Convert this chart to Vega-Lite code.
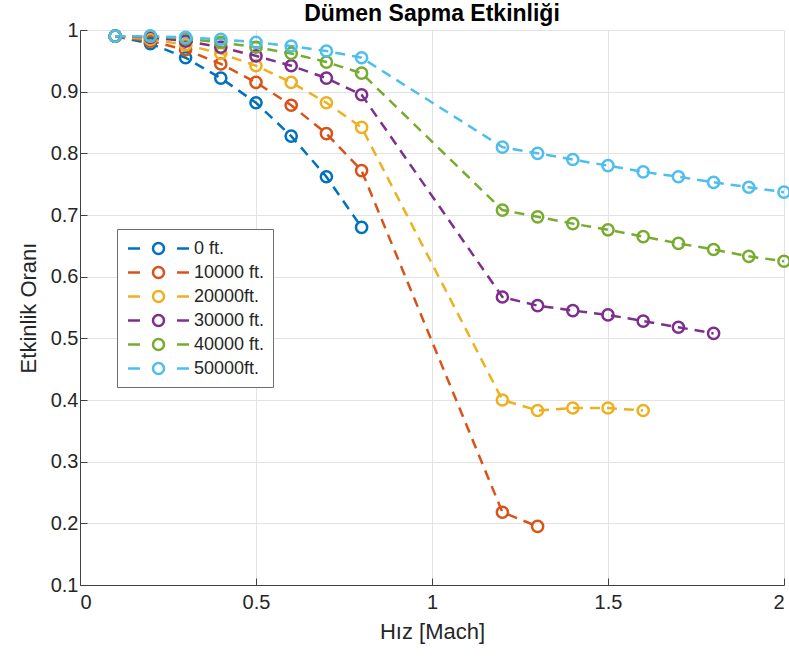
{
  "$schema": "https://vega.github.io/schema/vega-lite/v6.json",
  "autosize": {"type": "none"},
  "width": 704,
  "height": 555,
  "padding": {"left": 80, "top": 30, "right": 5, "bottom": 72},
  "background": "white",
  "title": {
    "text": "Dümen Sapma Etkinliği",
    "font": "Liberation Sans",
    "fontSize": 23,
    "fontWeight": "bold",
    "color": "#000000",
    "anchor": "middle",
    "offset": -6
  },
  "config": {
    "view": {"stroke": null},
    "axis": {
      "labelFont": "Liberation Sans",
      "titleFont": "Liberation Sans",
      "labelFontSize": 20,
      "titleFontSize": 22,
      "titleFontWeight": "normal",
      "labelColor": "#262626",
      "titleColor": "#262626",
      "domainColor": "#404040",
      "domainWidth": 1,
      "tickColor": "#404040",
      "tickSize": -7,
      "gridColor": "#e3e3e3",
      "gridWidth": 1
    }
  },
  "data": {
    "values": [
      {"mach": 0.1, "ratio": 0.990, "alt": "0 ft."},
      {"mach": 0.2, "ratio": 0.978, "alt": "0 ft."},
      {"mach": 0.3, "ratio": 0.955, "alt": "0 ft."},
      {"mach": 0.4, "ratio": 0.922, "alt": "0 ft."},
      {"mach": 0.5, "ratio": 0.882, "alt": "0 ft."},
      {"mach": 0.6, "ratio": 0.828, "alt": "0 ft."},
      {"mach": 0.7, "ratio": 0.762, "alt": "0 ft."},
      {"mach": 0.8, "ratio": 0.680, "alt": "0 ft."},

      {"mach": 0.1, "ratio": 0.990, "alt": "10000 ft."},
      {"mach": 0.2, "ratio": 0.982, "alt": "10000 ft."},
      {"mach": 0.3, "ratio": 0.968, "alt": "10000 ft."},
      {"mach": 0.4, "ratio": 0.945, "alt": "10000 ft."},
      {"mach": 0.5, "ratio": 0.915, "alt": "10000 ft."},
      {"mach": 0.6, "ratio": 0.878, "alt": "10000 ft."},
      {"mach": 0.7, "ratio": 0.832, "alt": "10000 ft."},
      {"mach": 0.8, "ratio": 0.772, "alt": "10000 ft."},
      {"mach": 1.2, "ratio": 0.218, "alt": "10000 ft."},
      {"mach": 1.3, "ratio": 0.195, "alt": "10000 ft."},

      {"mach": 0.1, "ratio": 0.990, "alt": "20000ft."},
      {"mach": 0.2, "ratio": 0.985, "alt": "20000ft."},
      {"mach": 0.3, "ratio": 0.976, "alt": "20000ft."},
      {"mach": 0.4, "ratio": 0.962, "alt": "20000ft."},
      {"mach": 0.5, "ratio": 0.942, "alt": "20000ft."},
      {"mach": 0.6, "ratio": 0.915, "alt": "20000ft."},
      {"mach": 0.7, "ratio": 0.882, "alt": "20000ft."},
      {"mach": 0.8, "ratio": 0.842, "alt": "20000ft."},
      {"mach": 1.2, "ratio": 0.400, "alt": "20000ft."},
      {"mach": 1.3, "ratio": 0.383, "alt": "20000ft."},
      {"mach": 1.4, "ratio": 0.387, "alt": "20000ft."},
      {"mach": 1.5, "ratio": 0.387, "alt": "20000ft."},
      {"mach": 1.6, "ratio": 0.383, "alt": "20000ft."},

      {"mach": 0.1, "ratio": 0.990, "alt": "30000 ft."},
      {"mach": 0.2, "ratio": 0.988, "alt": "30000 ft."},
      {"mach": 0.3, "ratio": 0.982, "alt": "30000 ft."},
      {"mach": 0.4, "ratio": 0.972, "alt": "30000 ft."},
      {"mach": 0.5, "ratio": 0.958, "alt": "30000 ft."},
      {"mach": 0.6, "ratio": 0.942, "alt": "30000 ft."},
      {"mach": 0.7, "ratio": 0.922, "alt": "30000 ft."},
      {"mach": 0.8, "ratio": 0.895, "alt": "30000 ft."},
      {"mach": 1.2, "ratio": 0.567, "alt": "30000 ft."},
      {"mach": 1.3, "ratio": 0.553, "alt": "30000 ft."},
      {"mach": 1.4, "ratio": 0.545, "alt": "30000 ft."},
      {"mach": 1.5, "ratio": 0.538, "alt": "30000 ft."},
      {"mach": 1.6, "ratio": 0.528, "alt": "30000 ft."},
      {"mach": 1.7, "ratio": 0.518, "alt": "30000 ft."},
      {"mach": 1.8, "ratio": 0.508, "alt": "30000 ft."},

      {"mach": 0.1, "ratio": 0.990, "alt": "40000 ft."},
      {"mach": 0.2, "ratio": 0.990, "alt": "40000 ft."},
      {"mach": 0.3, "ratio": 0.986, "alt": "40000 ft."},
      {"mach": 0.4, "ratio": 0.980, "alt": "40000 ft."},
      {"mach": 0.5, "ratio": 0.972, "alt": "40000 ft."},
      {"mach": 0.6, "ratio": 0.962, "alt": "40000 ft."},
      {"mach": 0.7, "ratio": 0.948, "alt": "40000 ft."},
      {"mach": 0.8, "ratio": 0.930, "alt": "40000 ft."},
      {"mach": 1.2, "ratio": 0.708, "alt": "40000 ft."},
      {"mach": 1.3, "ratio": 0.697, "alt": "40000 ft."},
      {"mach": 1.4, "ratio": 0.686, "alt": "40000 ft."},
      {"mach": 1.5, "ratio": 0.676, "alt": "40000 ft."},
      {"mach": 1.6, "ratio": 0.665, "alt": "40000 ft."},
      {"mach": 1.7, "ratio": 0.654, "alt": "40000 ft."},
      {"mach": 1.8, "ratio": 0.644, "alt": "40000 ft."},
      {"mach": 1.9, "ratio": 0.633, "alt": "40000 ft."},
      {"mach": 2.0, "ratio": 0.625, "alt": "40000 ft."},

      {"mach": 0.1, "ratio": 0.990, "alt": "50000ft."},
      {"mach": 0.2, "ratio": 0.990, "alt": "50000ft."},
      {"mach": 0.3, "ratio": 0.988, "alt": "50000ft."},
      {"mach": 0.4, "ratio": 0.985, "alt": "50000ft."},
      {"mach": 0.5, "ratio": 0.980, "alt": "50000ft."},
      {"mach": 0.6, "ratio": 0.974, "alt": "50000ft."},
      {"mach": 0.7, "ratio": 0.966, "alt": "50000ft."},
      {"mach": 0.8, "ratio": 0.955, "alt": "50000ft."},
      {"mach": 1.2, "ratio": 0.810, "alt": "50000ft."},
      {"mach": 1.3, "ratio": 0.800, "alt": "50000ft."},
      {"mach": 1.4, "ratio": 0.790, "alt": "50000ft."},
      {"mach": 1.5, "ratio": 0.780, "alt": "50000ft."},
      {"mach": 1.6, "ratio": 0.770, "alt": "50000ft."},
      {"mach": 1.7, "ratio": 0.762, "alt": "50000ft."},
      {"mach": 1.8, "ratio": 0.753, "alt": "50000ft."},
      {"mach": 1.9, "ratio": 0.745, "alt": "50000ft."},
      {"mach": 2.0, "ratio": 0.737, "alt": "50000ft."}
    ]
  },
  "encoding": {
    "x": {
      "field": "mach",
      "type": "quantitative",
      "scale": {"domain": [0, 2], "nice": false, "zero": false},
      "axis": {
        "title": "Hız [Mach]",
        "values": [0, 0.5, 1, 1.5, 2],
        "format": "~g",
        "labelPadding": 14,
        "titlePadding": 9
      }
    },
    "y": {
      "field": "ratio",
      "type": "quantitative",
      "scale": {"domain": [0.1, 1], "nice": false, "zero": false},
      "axis": {
        "title": "Etkinlik Oranı",
        "values": [0.1, 0.2, 0.3, 0.4, 0.5, 0.6, 0.7, 0.8, 0.9, 1],
        "format": ".1~f",
        "labelPadding": 9,
        "titlePadding": 10
      }
    },
    "color": {
      "field": "alt",
      "type": "nominal",
      "sort": ["0 ft.", "10000 ft.", "20000ft.", "30000 ft.", "40000 ft.", "50000ft."],
      "scale": {
        "domain": ["0 ft.", "10000 ft.", "20000ft.", "30000 ft.", "40000 ft.", "50000ft."],
        "range": ["#0072BD", "#D95319", "#EDB120", "#7E2F8E", "#77AC30", "#4DBEEE"]
      },
      "legend": {
        "title": null,
        "orient": "none",
        "legendX": 37,
        "legendY": 199,
        "fillColor": "white",
        "strokeColor": "#6e6e6e",
        "padding": 8,
        "symbolType": "M-3.05,0H-1.85M-0.55,0A0.55,0.55 0 1,1 0.55,0A0.55,0.55 0 1,1 -0.55,0M1.85,0H3.05",
        "symbolSize": 400,
        "symbolStrokeWidth": 2.5,
        "symbolFillColor": "transparent",
        "symbolOffset": 22,
        "labelOffset": 24,
        "labelFont": "Liberation Sans",
        "labelFontSize": 18,
        "labelColor": "#262626",
        "rowPadding": 2
      }
    }
  },
  "layer": [
    {
      "mark": {"type": "line", "strokeWidth": 2.5, "strokeDash": [10, 7]},
      "encoding": {"detail": {"field": "alt"}}
    },
    {
      "mark": {"type": "point", "shape": "circle", "filled": false, "size": 125, "strokeWidth": 2.5, "opacity": 1}
    }
  ]
}
